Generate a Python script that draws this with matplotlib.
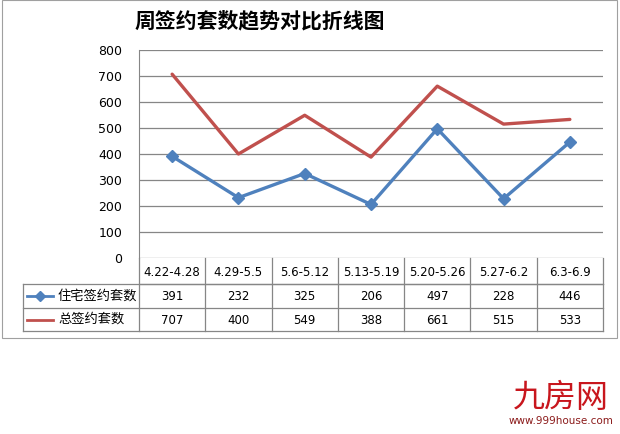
import matplotlib
matplotlib.use("Agg")
import matplotlib.pyplot as plt
from matplotlib.lines import Line2D
from matplotlib.patches import Rectangle

plt.rcParams['font.family'] = ['Noto Sans CJK SC', 'DejaVu Sans']

title = "周签约套数趋势对比折线图"
weeks = ["4.22-4.28", "4.29-5.5", "5.6-5.12", "5.13-5.19", "5.20-5.26", "5.27-6.2", "6.3-6.9"]
series_names = ["住宅签约套数", "总签约套数"]
housing = [391, 232, 325, 206, 497, 228, 446]
total = [707, 400, 549, 388, 661, 515, 533]
yticks = [0, 100, 200, 300, 400, 500, 600, 700, 800]

BLUE = "#4F81BD"
RED = "#C0504D"
GRID = "#868686"
W, H = 620, 434


def fx(px):
    return px / W


def fy(py):
    return 1 - py / H


fig = plt.figure(figsize=(6.2, 4.34), dpi=100)
fig.patch.set_facecolor("white")

# chart frame
fig.add_artist(Rectangle((fx(2), fy(338)), fx(615), 338 / H, transform=fig.transFigure,
                         fill=False, edgecolor="#A0A0A0", linewidth=0.8))

left, right, top, bottom = 139, 603, 50, 258
ax = fig.add_axes([fx(left), fy(bottom), fx(right - left), (bottom - top) / H])
x = list(range(len(weeks)))
ax.plot(x, total, color=RED, linewidth=2.4, solid_capstyle="round", zorder=3)
ax.plot(x, housing, color=BLUE, linewidth=2.4, marker="D", markersize=6,
        solid_capstyle="round", zorder=3)
ax.set_xlim(-0.5, len(weeks) - 0.5)
ax.set_ylim(0, 800)
ax.set_yticks(yticks)
ax.set_yticklabels([str(v) for v in yticks], fontsize=9, family="DejaVu Sans")
ax.tick_params(axis="y", length=0, pad=12)
ax.set_xticks([])
ax.grid(axis="y", color=GRID, linewidth=0.9)
ax.set_axisbelow(True)
for s in ["top", "right", "bottom"]:
    ax.spines[s].set_visible(False)
ax.spines["left"].set_color(GRID)

fig.text(fx(260), fy(21), title, ha="center", va="center", fontsize=15,
         fontweight="semibold", color="#000000")

# data table below the plot area
row_y = [258, 284, 308, 331]
tab_left = 23
colw = (right - left) / len(weeks)


def hline(x0, x1, y):
    fig.add_artist(Line2D([fx(x0), fx(x1)], [fy(y), fy(y)], transform=fig.transFigure,
                          color=GRID, linewidth=0.9))


def vline(xp, y0, y1):
    fig.add_artist(Line2D([fx(xp), fx(xp)], [fy(y0), fy(y1)], transform=fig.transFigure,
                          color=GRID, linewidth=0.9))


hline(left, right, row_y[1])
hline(tab_left, right, row_y[1])
hline(tab_left, right, row_y[2])
hline(tab_left, right, row_y[3])
vline(tab_left, row_y[1], row_y[3])
for i in range(len(weeks) + 1):
    vline(left + i * colw, row_y[0], row_y[3])

for i, w in enumerate(weeks):
    cx = left + (i + 0.5) * colw
    fig.text(fx(cx), fy((row_y[0] + row_y[1]) / 2 + 1), w, ha="center", va="center",
             fontsize=8.5, family="DejaVu Sans", color="#000000")

rows = [(series_names[0], housing, BLUE, "D"), (series_names[1], total, RED, None)]
for r, (name, vals, col, mk) in enumerate(rows):
    cy = (row_y[r + 1] + row_y[r + 2]) / 2
    fig.add_artist(Line2D([fx(27), fx(53)], [fy(cy), fy(cy)], transform=fig.transFigure,
                          color=col, linewidth=2, marker=None))
    if mk:
        fig.add_artist(Line2D([fx(40)], [fy(cy)], transform=fig.transFigure,
                              color=col, marker=mk, markersize=5, linestyle="none"))
    fig.text(fx(58), fy(cy), name, ha="left", va="center", fontsize=9.5, color="#000000")
    for i, v in enumerate(vals):
        cx = left + (i + 0.5) * colw
        fig.text(fx(cx), fy(cy + 1), str(v), ha="center", va="center",
                 fontsize=8.5, family="DejaVu Sans", color="#000000")

# watermark
fig.text(fx(561), fy(398), "九房网", ha="center", va="center", fontsize=23,
         color="#C8161D")
fig.text(fx(561), fy(421), "www.999house.com", ha="center", va="center", fontsize=7.5,
         family="DejaVu Sans", color="#8B1A1A")

fig.savefig("out.png", dpi=100, facecolor="white")
